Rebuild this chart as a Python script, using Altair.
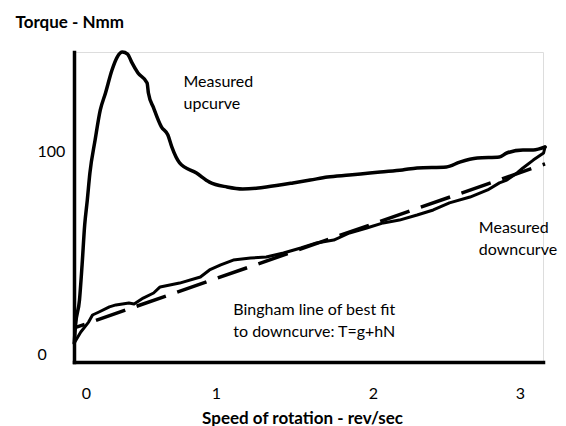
import altair as alt
import pandas as pd

# ---- data ----
up_x = [-0.09, -0.08, -0.05, -0.03, -0.01, 0.01, 0.03, 0.07, 0.11, 0.15, 0.20, 0.24, 0.28,
        0.32, 0.35, 0.40, 0.47, 0.48, 0.52, 0.58, 0.63, 0.66, 0.72, 0.85, 0.95, 1.07, 1.17,
        1.27, 1.32, 1.49, 1.60, 1.71, 1.85, 1.98, 2.05, 2.20, 2.30, 2.50, 2.59, 2.71, 2.86,
        2.91, 3.02, 3.09, 3.17]
up_y = [5.4, 14.4, 26.7, 44.1, 63.9, 76.2, 89.6, 105.9, 120.8, 129.2, 140.6, 147.0, 149.5,
        148.5, 144.6, 139.1, 134.2, 129.2, 121.8, 112.4, 108.4, 102.5, 94.6, 89.6, 85.1, 82.7,
        81.7, 82.2, 82.7, 84.7, 86.1, 87.6, 88.6, 89.6, 90.1, 91.1, 92.1, 92.6, 95.0, 97.0,
        97.5, 99.5, 101.0, 101.0, 102.5]

down_x = [3.17, 3.16, 3.09, 3.02, 2.98, 2.91, 2.86, 2.78, 2.66, 2.52, 2.41, 2.30, 2.18, 2.07,
          1.96, 1.85, 1.75, 1.64, 1.54, 1.43, 1.32, 1.22, 1.11, 1.03, 0.95, 0.88, 0.72, 0.57,
          0.52, 0.44, 0.37, 0.33, 0.23, 0.18, 0.10, 0.05, 0.02, -0.04, -0.09]
down_y = [102.5, 99.5, 96.0, 92.1, 89.6, 86.1, 84.7, 81.2, 77.7, 74.8, 71.3, 68.8, 66.3, 64.9,
          62.4, 59.9, 56.4, 55.0, 52.5, 50.0, 48.0, 47.5, 46.5, 44.1, 41.6, 38.1, 35.1, 33.2,
          30.2, 27.7, 24.8, 25.2, 24.3, 23.3, 20.8, 19.3, 15.8, 10.9, 5.4]

fit_x = [-0.09, 3.17]
fit_y = [12.9, 94.1]

note_text = ["Measured\nupcurve", "Measured\ndowncurve",
             "Bingham line of best fit\nto downcurve: T=g+hN"]
note_x = [0.75, 2.72, 1.11]
note_y = [132.2, 59.9, 19.3]

x_ticks = [0, 1, 2, 3]
y_ticks = [0, 100]

# ---- scales ----
X_DOMAIN = [-0.092, 0, 1, 2, 3, 3.156]
X_RANGE = [0, 12, 142, 299, 446, 469]
Y_DOMAIN = [-3.96, 149.5]

FONT = "Lato"

up = pd.DataFrame({"x": up_x, "y": up_y, "i": range(len(up_x))})
down = pd.DataFrame({"x": down_x, "y": down_y, "i": range(len(down_x))})
fit = pd.DataFrame({"x": fit_x, "y": fit_y, "i": range(len(fit_x))})
notes = pd.DataFrame({"x": note_x, "y": note_y, "t": note_text})

x_enc = alt.X(
    "x:Q",
    scale=alt.Scale(domain=X_DOMAIN, range=X_RANGE, nice=False, zero=False),
    axis=alt.Axis(
        values=x_ticks, format="d", grid=False, ticks=False, domain=True,
        domainColor="black", domainWidth=3.5, domainCap="square",
        labelFont=FONT, labelFontSize=16, labelColor="black",
        labelPadding=31, labelBaseline="middle", labelFlush=False, labelOverlap=False,
        title="Speed of rotation - rev/sec", titleFont=FONT, titleFontSize=17,
        titleFontWeight="bold", titleColor="black", titleX=228, titleY=61,
        titleBaseline="alphabetic", titleAlign="center",
    ),
)
y_enc = alt.Y(
    "y:Q",
    scale=alt.Scale(domain=Y_DOMAIN, nice=False, zero=False),
    axis=alt.Axis(
        values=y_ticks, format="d", grid=False, ticks=False, domain=True,
        domainColor="black", domainWidth=3.5, domainCap="square",
        labelFont=FONT, labelFontSize=16, labelColor="black",
        labelAlign="left", labelPadding=37, labelBaseline="middle",
        labelFlush=False, labelOverlap=False,
        title="Torque - Nmm", titleFont=FONT, titleFontSize=17,
        titleFontWeight="bold", titleColor="black", titleAngle=0,
        titleAlign="left", titleX=-59, titleY=-25, titleBaseline="alphabetic",
    ),
)

up_line = alt.Chart(up).mark_line(
    color="black", strokeWidth=3.5, strokeCap="round", strokeJoin="round", interpolate="monotone"
).encode(x=x_enc, y=y_enc, order="i:Q")

down_line = alt.Chart(down).mark_line(
    color="black", strokeWidth=3, strokeCap="round", strokeJoin="round"
).encode(x="x:Q", y="y:Q", order="i:Q")

fit_line = alt.Chart(fit).mark_line(
    color="black", strokeWidth=3.5, strokeDash=[31, 12], strokeDashOffset=20
).encode(x="x:Q", y="y:Q", order="i:Q")

labels = alt.Chart(notes).mark_text(
    align="left", baseline="alphabetic", lineBreak="\n", lineHeight=22,
    font=FONT, fontSize=16, color="black"
).encode(x="x:Q", y="y:Q", text="t:N")

chart = alt.layer(up_line, down_line, fit_line, labels).properties(
    width=469, height=310,
    padding={"left": 74, "top": 52, "right": 23, "bottom": 64},
    autosize=alt.AutoSizeParams(type="none"),
).configure_view(stroke=None).configure(background="white")

chart.save("out.html", embed_options={"renderer": "svg", "actions": False})
